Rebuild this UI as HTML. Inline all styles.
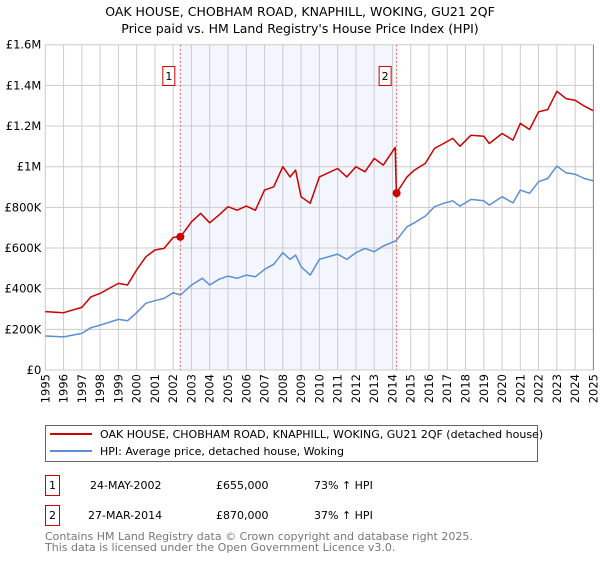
<!DOCTYPE html>
<html><head><meta charset="utf-8"><style>
body{margin:0;background:#fff;font-family:"Liberation Sans","DejaVu Sans",sans-serif;}
svg text{font-family:"DejaVu Sans","Liberation Sans",sans-serif;}
</style></head><body>
<svg id="chart" width="600" height="560" xmlns="http://www.w3.org/2000/svg">
<text x="300" y="16" text-anchor="middle" font-size="12.5" fill="#000">OAK HOUSE, CHOBHAM ROAD, KNAPHILL, WOKING, GU21 2QF</text>
<text x="300" y="33" text-anchor="middle" font-size="12.5" fill="#000">Price paid vs. HM Land Registry's House Price Index (HPI)</text>
<g id="plot"></g>
<g>
<rect x="45.5" y="425.5" width="492" height="36" fill="#fff" stroke="#666"/>
<line x1="50" y1="434" x2="92" y2="434" stroke="#cc0000" stroke-width="2"/>
<text x="100" y="438" font-size="11">OAK HOUSE, CHOBHAM ROAD, KNAPHILL, WOKING, GU21 2QF (detached house)</text>
<line x1="50" y1="451" x2="92" y2="451" stroke="#5b8fd6" stroke-width="2"/>
<text x="100" y="455" font-size="11">HPI: Average price, detached house, Woking</text>
</g>
<g font-size="11">
<rect x="45.5" y="475.5" width="14" height="20" fill="#fff" stroke="#cc0000"/>
<text x="52.5" y="489" text-anchor="middle">1</text>
<text x="90" y="489">24-MAY-2002</text><text x="216" y="489">£655,000</text><text x="314" y="489">73% ↑ HPI</text>
<rect x="45.5" y="505.5" width="14" height="20" fill="#fff" stroke="#cc0000"/>
<text x="52.5" y="519" text-anchor="middle">2</text>
<text x="88" y="519">27-MAR-2014</text><text x="216" y="519">£870,000</text><text x="314" y="519">37% ↑ HPI</text>
</g>
<text x="45" y="540" font-size="11" fill="#777">Contains HM Land Registry data © Crown copyright and database right 2025.</text>
<text x="45" y="551" font-size="11" fill="#777">This data is licensed under the Open Government Licence v3.0.</text>
</svg>
<script>
const hpiYears=[1995,1996,1997,1997.5,1998,1999,1999.5,2000,2000.5,2001,2001.5,2002,2002.4,2003,2003.6,2004,2004.5,2005,2005.5,2006,2006.5,2007,2007.5,2008,2008.4,2008.7,2009,2009.5,2010,2011,2011.5,2012,2012.5,2013,2013.5,2014.2,2014.8,2015.2,2015.8,2016.3,2016.8,2017.3,2017.7,2018.3,2019,2019.3,2020,2020.6,2021,2021.5,2022,2022.5,2023,2023.5,2024,2024.5,2025];
const hpiValues=[167,163,180,208,221,249,242,282,328,341,352,380,369,418,451,418,446,462,451,467,459,495,520,577,544,565,508,467,544,570,544,577,598,582,610,636,705,724,757,803,820,832,806,839,832,811,852,822,885,869,926,942,1003,970,963,942,930];
const priceYears=[1995,1996,1997,1997.5,1998,1999,1999.5,2000,2000.5,2001,2001.5,2002,2002.4,2003,2003.5,2004,2004.5,2005,2005.5,2006,2006.5,2007,2007.5,2008,2008.4,2008.7,2009,2009.5,2010,2011,2011.5,2012,2012.5,2013,2013.5,2014.15,2014.22,2014.8,2015.2,2015.8,2016.3,2016.8,2017.3,2017.7,2018.3,2019,2019.3,2020,2020.6,2021,2021.5,2022,2022.5,2023,2023.5,2024,2024.5,2025];
const priceValues=[287,282,308,360,377,426,418,492,557,590,598,652,655,729,770,724,762,803,786,806,786,885,901,1000,950,983,852,820,950,991,950,1000,975,1041,1008,1095,870,950,983,1016,1090,1114,1139,1101,1155,1150,1114,1163,1131,1213,1183,1270,1281,1371,1335,1327,1298,1275];
const saleYears=[2002.39,2014.23];
const saleValues=[655,870];
const saleLabels=["1","2"];
const yTicks=[0,200,400,600,800,1000,1200,1400,1600];
const yTickLabels=["£0","£200K","£400K","£600K","£800K","£1M","£1.2M","£1.4M","£1.6M"];
const xTicks=[1995,1996,1997,1998,1999,2000,2001,2002,2003,2004,2005,2006,2007,2008,2009,2010,2011,2012,2013,2014,2015,2016,2017,2018,2019,2020,2021,2022,2023,2024,2025];

const L=45.3,R=593.4,T=44.7,B=370;
const xs=y=>L+(y-1995)/30*(R-L);
const ys=v=>B-v/1600*(B-T);
const NS="http://www.w3.org/2000/svg";
const g=document.getElementById('plot');
function mk(tag,attrs,parent){const e=document.createElementNS(NS,tag);for(const k in attrs)e.setAttribute(k,attrs[k]);(parent||g).appendChild(e);return e;}

const shade=mk('rect',{x:xs(saleYears[0]),y:T,width:xs(saleYears[1])-xs(saleYears[0]),height:B-T,fill:'#f3f6fe'});


yTicks.forEach((v,i)=>{
  const l=mk('line',{x1:L,x2:R,y1:ys(v),y2:ys(v),stroke:'#cccccc','stroke-width':1});
  
  
  const t=mk('text',{x:L-4,y:ys(v)+4,'text-anchor':'end','font-size':11.5,fill:'#000'});
  t.textContent=yTickLabels[i];
  
  
});
xTicks.forEach(yr=>{
  const l=mk('line',{x1:xs(yr),x2:xs(yr),y1:T,y2:B,stroke:'#cccccc','stroke-width':1});
  
  
  const t=mk('text',{x:0,y:0,'text-anchor':'end','font-size':11.5,fill:'#000',transform:`translate(${xs(yr)+4},${B+4}) rotate(-90)`});
  t.textContent=yr;
  
  
});
saleYears.forEach((yr,i)=>{
  const l=mk('line',{x1:xs(yr),x2:xs(yr),y1:T,y2:B,stroke:'#e06060','stroke-width':1,'stroke-dasharray':'2,2'});
  
  
});
function path(xa,va,color,name){
  const d=xa.map((x,i)=>(i?'L':'M')+xs(x).toFixed(1)+','+ys(va[i]).toFixed(1)).join('');
  const p=mk('path',{d:d,fill:'none',stroke:color,'stroke-width':1.5,'stroke-linejoin':'round'});
  
  
}
path(hpiYears,hpiValues,'#5b8fd6','hpi-line');
path(priceYears,priceValues,'#cc0000','price-line');
saleYears.forEach((yr,i)=>{
  const c=mk('circle',{cx:xs(yr),cy:ys(saleValues[i]),r:4,fill:'#cc0000'});
  
  
  const bx=xs(yr)-18;
  const r=mk('rect',{x:bx+0.5,y:66.5,width:12,height:19,fill:'#fff',stroke:'#cc0000'});
  
  
  const t=mk('text',{x:bx+6.5,y:80,'text-anchor':'middle','font-size':11});
  t.textContent=saleLabels[i];
  
  
});
const ax=mk('line',{x1:R,x2:R,y1:T,y2:B,stroke:'#888','stroke-width':1});


</script>
</body></html>
